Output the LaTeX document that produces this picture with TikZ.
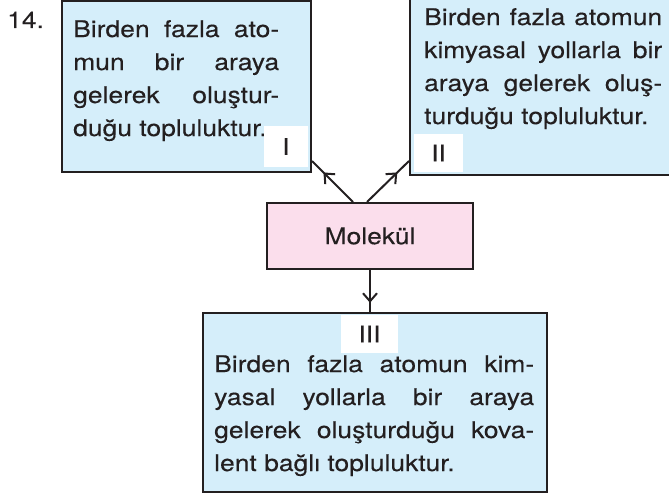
\documentclass[tikz,border=0pt]{standalone}
\usepackage{fontspec}
\setmainfont{TeX Gyre Heros}[FakeStretch=1.15,FakeBold=0.2]
\usetikzlibrary{arrows.meta,decorations.markings}
\definecolor{boxblue}{HTML}{D5EEFA}
\definecolor{boxpink}{HTML}{FBDEEC}
\definecolor{ink}{HTML}{231F20}

\begin{document}
\begin{tikzpicture}[x=1pt,y=1pt,
    bigfont/.style={font=\fontsize{23}{33}\selectfont, text=ink},
    infobox/.style={draw=ink, line width=2pt, fill=boxblue, inner sep=0pt},
    infotext/.style={bigfont, anchor=north west, text width=#1, align=justify, inner sep=0pt},
    tagbox/.style={fill=white, bigfont, inner sep=0pt},
    link/.style={draw=ink, line width=2pt, postaction={decorate},
        decoration={markings, mark=at position #1 with {\arrow{Straight Barb[length=8pt,width=14pt,line width=2pt]}}}}
  ]
  \useasboundingbox (0,0) rectangle (669,493);
  \clip (0,0) rectangle (669,493);

  % Question number
  \node[bigfont, anchor=base west, inner sep=0pt] (num) at (7,465) {14.};

  % Boxes
  \node[infobox, minimum width=249, minimum height=171] (boxI) at (186.5,406.5) {};
  \node[infobox, minimum width=280, minimum height=195] (boxII) at (550,415.5) {};
  \node[infobox, minimum width=344, minimum height=179] (boxIII) at (375,90.5) {};
  \node[draw=ink, line width=2pt, fill=boxpink, minimum width=206, minimum height=66, bigfont] (molekul) at (370,257) {Molekül};

  % Texts in the boxes
  \node[infotext=206] (textI) at (73,473)
    {Birden fazla ato-\linebreak mun bir araya\linebreak gelerek oluştur-\linebreak duğu topluluktur.};
  \node[infotext=238] (textII) at (424,485)
    {Birden fazla atomun\linebreak kimyasal yollarla bir\linebreak araya gelerek oluş-\linebreak turduğu topluluktur.};
  \node[infotext=320] (textIII) at (214,138)
    {Birden fazla atomun kim-\linebreak yasal yollarla bir araya\linebreak gelerek oluşturduğu kova-\linebreak lent bağlı topluluktur.};

  % Roman numeral tags
  \node[tagbox, minimum width=44, minimum height=41] (tagI) at (286,346.5) {I};
  \node[tagbox, minimum width=49, minimum height=38] (tagII) at (438.5,340) {II};
  \node[tagbox, minimum width=57, minimum height=38] (tagIII) at (369.5,159) {III};

  % Connectors
  \path[link=0.72] ([xshift=-17pt]molekul.north) -- ([yshift=12pt]boxI.south east);
  \path[link=0.72] ([xshift=-3pt]molekul.north) -- ([yshift=15pt]boxII.south west);
  \path[link=0.78] (molekul.south) -- (molekul.south |- boxIII.north);
\end{tikzpicture}
\end{document}
